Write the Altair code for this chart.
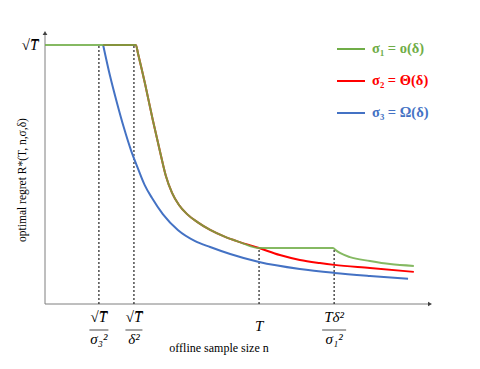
import altair as alt
import pandas as pd

# ---- data (schematic units: n on 0..100, regret with sqrt(T) = 1) ----
BLUE_X = [15.1, 16.9, 18.7, 20.5, 22.3, 24.2, 25.9, 27.8, 30.6, 34.5, 39.0, 42.9, 48.1, 55.6, 66.2, 75.1, 84.4, 94.3]
BLUE_Y = [1.0, 0.880, 0.776, 0.680, 0.595, 0.521, 0.459, 0.409, 0.347, 0.286, 0.243, 0.220, 0.193, 0.162, 0.135, 0.120, 0.108, 0.097]

SHARED_X = [23.6, 24.2, 26.0, 28.0, 29.9, 31.4, 33.0, 34.8, 36.9, 39.5, 42.9, 46.8, 50.6, 55.6]
SHARED_Y = [1.0, 0.964, 0.849, 0.710, 0.587, 0.494, 0.429, 0.382, 0.347, 0.317, 0.286, 0.259, 0.239, 0.216]

GREEN_X = [0.0] + SHARED_X + [74.8, 75.6, 76.6, 79.2, 84.4, 89.6, 95.8]
GREEN_Y = [1.0] + SHARED_Y + [0.216, 0.207, 0.197, 0.181, 0.166, 0.154, 0.147]

RED_X = [15.1] + SHARED_X + [61.0, 66.2, 71.4, 75.1, 84.4, 95.8]
RED_Y = [1.0] + SHARED_Y + [0.189, 0.170, 0.158, 0.151, 0.139, 0.124]

DASH_X = [14.0, 23.1, 55.6, 75.1]
DASH_TOP = [1.0, 1.0, 0.216, 0.216]

TICK_NUM = ["√T̅", "√T̅", "", "Tδ²"]
TICK_DEN = ["σ₃²", "δ²", "", "σ₁²"]
TICK_BAR = [19, 17, 0, 24]
TICK_SINGLE = ["", "", "T", ""]

LEGEND_LABELS = ["σ₁ = o(δ)", "σ₂ = Θ(δ)", "σ₃ = Ω(δ)"]
LEGEND_COLORS = ["#70AD47", "#FF0000", "#4472C4"]

X_END = 100
Y_END = 1.046

W, H = 385, 271
SERIF = "Liberation Serif"
AXIS_GRAY = "#7f7f7f"

xs = alt.Scale(domain=[0, X_END], nice=False, zero=False)
ys = alt.Scale(domain=[0, Y_END], nice=False, zero=False)

def line_layer(xv, yv, color, opacity=1.0):
    df = pd.DataFrame({"x": xv, "y": yv})
    return alt.Chart(df).mark_line(color=color, strokeWidth=2, interpolate="monotone",
                                   strokeOpacity=opacity).encode(
        x=alt.X("x:Q", scale=xs, axis=None),
        y=alt.Y("y:Q", scale=ys, axis=None),
    )

# axes
axes_df = pd.DataFrame({"x": [0, 0], "y": [0, 0], "x2": [X_END, 0], "y2": [0, Y_END]})
axes = alt.Chart(axes_df).mark_rule(color=AXIS_GRAY, strokeWidth=1).encode(
    x=alt.X("x:Q", scale=xs, axis=None), x2="x2:Q",
    y=alt.Y("y:Q", scale=ys, axis=None), y2="y2:Q",
)
arrows_df = pd.DataFrame({"x": [X_END, 0], "y": [0, Y_END], "shape": ["triangle-right", "triangle-up"]})
arrows = alt.Chart(arrows_df).mark_point(filled=True, color="#404040", size=22, opacity=1).encode(
    x=alt.X("x:Q", scale=xs, axis=None),
    y=alt.Y("y:Q", scale=ys, axis=None),
    shape=alt.Shape("shape:N", scale=None),
)

dash_df = pd.DataFrame({"x": DASH_X, "top": DASH_TOP, "zero": [0] * len(DASH_X)})
dashes = alt.Chart(dash_df).mark_rule(color="#222222", strokeWidth=1.2, strokeDash=[2, 2]).encode(
    x=alt.X("x:Q", scale=xs, axis=None),
    y=alt.Y("zero:Q", scale=ys, axis=None), y2="top:Q",
)

blue = line_layer(BLUE_X, BLUE_Y, "#4472C4")
red = line_layer(RED_X, RED_Y, "#FF0000")
green = line_layer(GREEN_X, GREEN_Y, "#70AD47", 0.85)

tick_df = pd.DataFrame({"x": DASH_X, "num": TICK_NUM, "den": TICK_DEN, "bar": TICK_BAR, "single": TICK_SINGLE})
frac_df = tick_df[tick_df["bar"] > 0]
num_txt = alt.Chart(frac_df).mark_text(font=SERIF, fontStyle="italic", fontSize=15,
                                      baseline="middle", align="center").encode(
    x=alt.X("x:Q", scale=xs, axis=None), y=alt.value(284), text="num:N")
den_txt = alt.Chart(frac_df).mark_text(font=SERIF, fontStyle="italic", fontSize=15,
                                      baseline="middle", align="center").encode(
    x=alt.X("x:Q", scale=xs, axis=None), y=alt.value(306), text="den:N")
bars = alt.Chart(frac_df).mark_tick(orient="horizontal", thickness=1, color="black").encode(
    x=alt.X("x:Q", scale=xs, axis=None), y=alt.value(297),
    size=alt.Size("bar:Q", scale=None, legend=None))
single_txt = alt.Chart(tick_df[tick_df["single"] != ""]).mark_text(
    font=SERIF, fontStyle="italic", fontSize=15, baseline="middle", align="center").encode(
    x=alt.X("x:Q", scale=xs, axis=None), y=alt.value(293), text="single:N")

ylab_df = pd.DataFrame({"y": [1.0], "t": ["√T̅"]})
ylab = alt.Chart(ylab_df).mark_text(font=SERIF, fontStyle="italic", fontSize=15,
                                    baseline="middle", align="center").encode(
    x=alt.value(-15), y=alt.Y("y:Q", scale=ys, axis=None), text="t:N")

title_df = pd.DataFrame({"t": ["offline sample size n"], "yt": ["optimal regret R*(T, n,σ,δ)"]})
xtitle = alt.Chart(title_df).mark_text(font=SERIF, fontSize=12, baseline="middle", align="center").encode(
    x=alt.value(174), y=alt.value(315), text="t:N")
ytitle = alt.Chart(title_df).mark_text(font=SERIF, fontSize=11.5, baseline="middle", align="center",
                                       angle=270).encode(
    x=alt.value(-22), y=alt.value(147), text="yt:N")

leg_df = pd.DataFrame({"label": LEGEND_LABELS, "color": LEGEND_COLORS,
                       "row": list(range(len(LEGEND_LABELS)))})
leg_lines = alt.Chart(leg_df).mark_rule(strokeWidth=2).transform_calculate(
    py="16 + 32 * datum.row").encode(
    x=alt.value(292), x2=alt.value(320),
    y=alt.Y("py:Q", scale=None), color=alt.Color("color:N", scale=None))
leg_text = alt.Chart(leg_df).mark_text(font=SERIF, fontWeight="bold", fontSize=14.5,
                                       align="left", baseline="middle").transform_calculate(
    py="16 + 32 * datum.row").encode(
    x=alt.value(327), y=alt.Y("py:Q", scale=None),
    text="label:N", color=alt.Color("color:N", scale=None))

chart = alt.layer(
    axes, arrows, dashes, blue, red, green,
    num_txt, den_txt, bars, single_txt, ylab, xtitle, ytitle, leg_lines, leg_text,
).properties(
    width=W, height=H,
    padding={"left": 37, "top": 25, "right": 40, "bottom": 55},
    autosize=alt.AutoSizeParams(type="none"),
).configure_view(stroke=None)

chart.save("out.html", embed_options={"renderer": "svg", "actions": False})
